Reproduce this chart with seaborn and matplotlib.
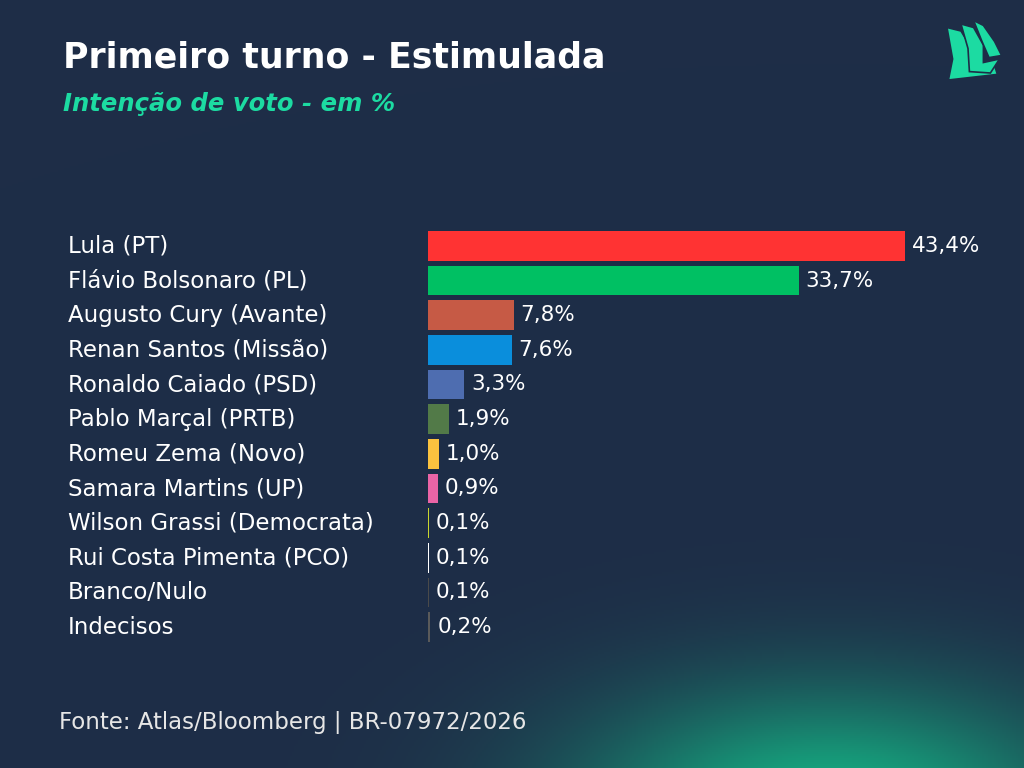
import numpy as np
import matplotlib
matplotlib.use('Agg')
import matplotlib.pyplot as plt
import matplotlib.transforms as mtrans
from matplotlib.patches import Polygon
import seaborn as sns

# data
candidates = ['Lula (PT)', 'Flávio Bolsonaro (PL)', 'Augusto Cury (Avante)',
              'Renan Santos (Missão)', 'Ronaldo Caiado (PSD)', 'Pablo Marçal (PRTB)',
              'Romeu Zema (Novo)', 'Samara Martins (UP)', 'Wilson Grassi (Democrata)',
              'Rui Costa Pimenta (PCO)', 'Branco/Nulo', 'Indecisos']
votes = [43.4, 33.7, 7.8, 7.6, 3.3, 1.9, 1.0, 0.9, 0.1, 0.1, 0.1, 0.2]
bar_colors = ['#FF3333', '#00C063', '#C65A45', '#0A8EDC', '#4E6DB0', '#527A48',
              '#FAC23F', '#EA64A6', '#C9D62E', '#FFFFFF', '#4A4A4A', '#5A5A5A']

BG = '#1E2D47'
TEAL = '#1CDBA2'

sns.set_theme(style='white')
plt.rcParams['font.family'] = ['DejaVu Sans']

fig = plt.figure(figsize=(10.24, 7.68), dpi=100)
fig.patch.set_facecolor(BG)

# background glow at the bottom
bg_ax = fig.add_axes([0, 0, 1, 1], zorder=0)
xx, yy = np.meshgrid(np.linspace(0, 1024, 512), np.linspace(0, 768, 384))
glow = np.exp(-(((xx - 830) / 250) ** 2 + ((yy - 815) / 125) ** 2))
base = np.array(matplotlib.colors.to_rgb(BG))
hot = np.array(matplotlib.colors.to_rgb('#15B083'))
img = base + (hot - base) * glow[..., None]
bg_ax.imshow(img, extent=[0, 1024, 768, 0], aspect='auto')
bg_ax.set_xlim(0, 1024)
bg_ax.set_ylim(768, 0)
bg_ax.axis('off')

# bars
ax = fig.add_axes([428 / 1024, 1 - 644.5 / 768, 550 / 1024, 416 / 768], zorder=2)
ax.set_facecolor('none')
sns.barplot(x=votes, y=candidates, hue=candidates, palette=bar_colors,
            legend=False, orient='h', width=0.86, ax=ax, saturation=1,
            linewidth=0)
ax.set_xlim(0, 50)
ax.set_ylim(len(candidates) - 0.5, -0.5)
for c in ax.containers:
    vals = [bar.get_width() for bar in c]
    ax.bar_label(c, labels=[f'{v:.1f}%'.replace('.', ',') for v in vals],
                 padding=5, color='white', fontsize=15.5)
ax.set_xlabel('')
ax.set_ylabel('')
ax.set_xticks([])
ax.set_yticks([])
sns.despine(ax=ax, left=True, bottom=True)

# candidate names
tr = mtrans.blended_transform_factory(fig.transFigure, ax.transData)
for i, name in enumerate(candidates):
    ax.text(68 / 1024, i, name, transform=tr, color='white', fontsize=16.5,
            ha='left', va='center')

# titles
fig.text(63 / 1024, 1 - 57 / 768, 'Primeiro turno - Estimulada', color='white',
         fontsize=25, fontweight='bold', ha='left', va='center')
fig.text(63 / 1024, 1 - 104 / 768, 'Intenção de voto - em %', color=TEAL,
         fontsize=17.5, fontweight='bold', fontstyle='italic', ha='left', va='center')
fig.text(59 / 1024, 1 - 723 / 768, 'Fonte: Atlas/Bloomberg | BR-07972/2026',
         color='#E6E6E6', fontsize=16.5, ha='left', va='center')

# logo
logo = fig.add_axes([940 / 1024, 1 - 80 / 768, 70 / 1024, 70 / 768], zorder=3)
logo.set_xlim(0, 100)
logo.set_ylim(100, 0)
logo.axis('off')
sails = [
    [(10, 25), (30, 30), (45, 55), (48, 85), (75, 70), (82, 92), (12, 100), (18, 70)],
    [(30, 20), (48, 25), (62, 50), (62, 75), (85, 70), (72, 90), (42, 88), (40, 55)],
    [(48, 15), (62, 22), (78, 45), (88, 65), (70, 68), (60, 45)],
]
for pts in sails:
    logo.add_patch(Polygon(pts, closed=True, facecolor=TEAL, edgecolor=BG, linewidth=1.2))

fig.savefig('out.png', dpi=100, facecolor=BG)
